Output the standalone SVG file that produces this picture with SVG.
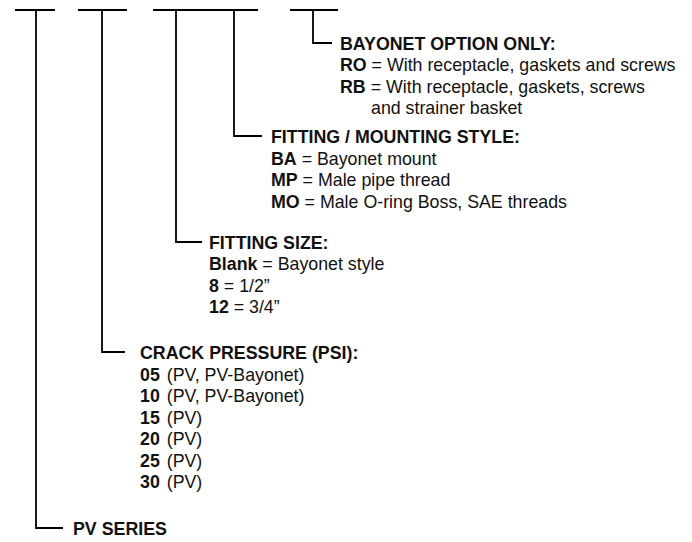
<svg xmlns="http://www.w3.org/2000/svg" width="692" height="542" viewBox="0 0 692 542">
<style>
.ln{fill:none;stroke:#000;stroke-width:1.8}
text{font-family:"Liberation Sans",Arial,sans-serif;font-size:17.8px;fill:#111}
.b{font-weight:bold}
</style>
<rect width="692" height="542" fill="#fff"/>
<g id="connectors">
<path class="ln" d="M15 10H55M78 10H127M153 10H258M290 10H338"/>
<path class="ln" d="M313 10V43H332"/>
<path class="ln" d="M234 10V136H262"/>
<path class="ln" d="M176 10V242H202"/>
<path class="ln" d="M102 10V352H125"/>
<path class="ln" d="M36 10V528H63"/>
</g>
<g id="bayonet">
<text x="340" y="49.5" class="b">BAYONET OPTION ONLY:</text>
<text x="340" y="71"><tspan class="b">RO</tspan> = With receptacle, gaskets and screws</text>
<text x="340" y="92.5"><tspan class="b">RB</tspan> = With receptacle, gaskets, screws</text>
<text x="371" y="114">and strainer basket</text>
</g>
<g id="fitting-style">
<text x="271" y="143" class="b">FITTING / MOUNTING STYLE:</text>
<text x="271" y="164.5"><tspan class="b">BA</tspan> = Bayonet mount</text>
<text x="271" y="186"><tspan class="b">MP</tspan> = Male pipe thread</text>
<text x="271" y="207.5"><tspan class="b">MO</tspan> = Male O-ring Boss, SAE threads</text>
</g>
<g id="fitting-size">
<text x="209" y="248.5" class="b">FITTING SIZE:</text>
<text x="209" y="270"><tspan class="b">Blank</tspan> = Bayonet style</text>
<text x="209" y="291.5"><tspan class="b">8</tspan> = 1/2”</text>
<text x="209" y="313"><tspan class="b">12</tspan> = 3/4”</text>
</g>
<g id="crack-pressure">
<text x="140" y="359" class="b">CRACK PRESSURE (PSI):</text>
<text x="140" y="380.5"><tspan class="b">05</tspan><tspan dx="2"> (PV, PV-Bayonet)</tspan></text>
<text x="140" y="402"><tspan class="b">10</tspan><tspan dx="2"> (PV, PV-Bayonet)</tspan></text>
<text x="140" y="423.5"><tspan class="b">15</tspan><tspan dx="2"> (PV)</tspan></text>
<text x="140" y="445"><tspan class="b">20</tspan><tspan dx="2"> (PV)</tspan></text>
<text x="140" y="466.5"><tspan class="b">25</tspan><tspan dx="2"> (PV)</tspan></text>
<text x="140" y="488"><tspan class="b">30</tspan><tspan dx="2"> (PV)</tspan></text>
</g>
<g id="pv-series">
<text x="73" y="535" class="b">PV SERIES</text>
</g>
</svg>
